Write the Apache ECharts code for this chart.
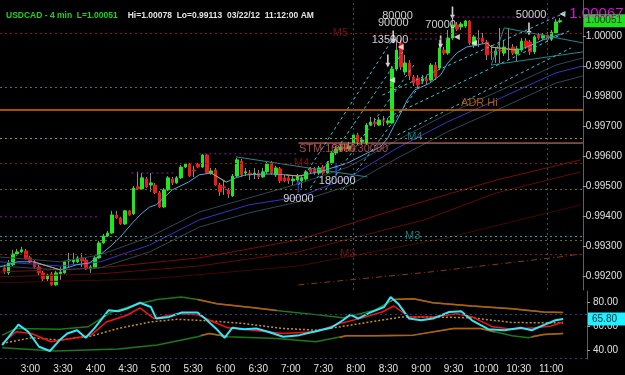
<!DOCTYPE html>
<html>
<head>
<meta charset="utf-8">
<script src="https://cdn.jsdelivr.net/npm/echarts@6/dist/echarts.min.js"></script>
<style>
html, body { margin: 0; padding: 0; background: #000; }
#chart { width: 625px; height: 375px; }
</style>
</head>
<body>
<div id="chart"></div>
<script>
// USDCAD 4 min bars, 2:36 -> 11:12
const firstBar = '2:36';
const barMinutes = 4;

// open, close, low, high
const candles = [
  [0.99227,0.99213,0.99207,0.99237],[0.99210,0.99243,0.99203,0.99253],[0.99237,0.99273,0.99233,0.99287],
  [0.99273,0.99280,0.99267,0.99290],[0.99280,0.99287,0.99277,0.99297],[0.99283,0.99257,0.99253,0.99290],
  [0.99260,0.99247,0.99243,0.99267],[0.99247,0.99230,0.99223,0.99253],[0.99230,0.99210,0.99203,0.99237],
  [0.99210,0.99190,0.99180,0.99217],[0.99190,0.99203,0.99183,0.99207],[0.99207,0.99170,0.99167,0.99213],
  [0.99170,0.99210,0.99167,0.99217],[0.99207,0.99213,0.99187,0.99230],[0.99210,0.99247,0.99207,0.99250],
  [0.99250,0.99253,0.99230,0.99277],[0.99247,0.99253,0.99240,0.99277],[0.99247,0.99260,0.99243,0.99267],
  [0.99260,0.99250,0.99230,0.99277],[0.99253,0.99223,0.99220,0.99260],[0.99223,0.99230,0.99210,0.99237],
  [0.99227,0.99260,0.99223,0.99267],[0.99260,0.99310,0.99257,0.99317],[0.99310,0.99333,0.99307,0.99340],
  [0.99333,0.99343,0.99330,0.99350],[0.99343,0.99403,0.99340,0.99417],[0.99403,0.99393,0.99390,0.99417],
  [0.99393,0.99373,0.99370,0.99397],[0.99373,0.99417,0.99370,0.99420],[0.99417,0.99403,0.99400,0.99420],
  [0.99407,0.99493,0.99403,0.99500],[0.99497,0.99490,0.99487,0.99547],[0.99490,0.99527,0.99487,0.99543],
  [0.99523,0.99497,0.99493,0.99530],[0.99503,0.99510,0.99480,0.99543],[0.99503,0.99477,0.99473,0.99510],
  [0.99477,0.99430,0.99427,0.99483],[0.99430,0.99487,0.99427,0.99493],[0.99487,0.99527,0.99483,0.99533],
  [0.99523,0.99510,0.99503,0.99530],[0.99510,0.99527,0.99507,0.99533],[0.99527,0.99563,0.99523,0.99570],
  [0.99563,0.99573,0.99560,0.99577],[0.99573,0.99533,0.99530,0.99577],[0.99553,0.99550,0.99530,0.99567],
  [0.99573,0.99563,0.99560,0.99577],[0.99563,0.99603,0.99560,0.99607],[0.99603,0.99543,0.99540,0.99607],
  [0.99543,0.99550,0.99537,0.99560],[0.99553,0.99503,0.99500,0.99560],[0.99503,0.99480,0.99467,0.99510],
  [0.99497,0.99495,0.99470,0.99520],[0.99487,0.99473,0.99460,0.99493],[0.99467,0.99533,0.99463,0.99540],
  [0.99533,0.99587,0.99530,0.99593],[0.99583,0.99537,0.99530,0.99590],[0.99543,0.99547,0.99533,0.99560],
  [0.99543,0.99537,0.99520,0.99553],[0.99540,0.99543,0.99523,0.99560],[0.99543,0.99530,0.99523,0.99553],
  [0.99530,0.99547,0.99527,0.99560],[0.99547,0.99573,0.99540,0.99580],[0.99577,0.99543,0.99537,0.99583],
  [0.99537,0.99560,0.99530,0.99567],[0.99557,0.99517,0.99510,0.99563],[0.99527,0.99517,0.99513,0.99537],
  [0.99527,0.99517,0.99507,0.99533],[0.99517,0.99523,0.99503,0.99533],[0.99520,0.99533,0.99513,0.99540],
  [0.99517,0.99527,0.99493,0.99533],[0.99523,0.99547,0.99517,0.99553],[0.99557,0.99547,0.99540,0.99563],
  [0.99557,0.99543,0.99537,0.99563],[0.99543,0.99560,0.99537,0.99567],[0.99563,0.99543,0.99537,0.99570],
  [0.99543,0.99577,0.99540,0.99583],[0.99577,0.99610,0.99570,0.99617],[0.99610,0.99623,0.99603,0.99633],
  [0.99620,0.99630,0.99613,0.99640],[0.99630,0.99623,0.99617,0.99640],[0.99623,0.99633,0.99617,0.99647],
  [0.99643,0.99670,0.99637,0.99677],[0.99670,0.99647,0.99640,0.99677],[0.99647,0.99653,0.99637,0.99663],
  [0.99643,0.99703,0.99637,0.99710],[0.99703,0.99713,0.99700,0.99730],[0.99713,0.99707,0.99697,0.99727],
  [0.99703,0.99720,0.99700,0.99730],[0.99717,0.99715,0.99700,0.99733],[0.99710,0.99717,0.99703,0.99727],
  [0.99710,0.99890,0.99707,0.99900],[0.99890,0.99953,0.99883,0.99987],[0.99977,0.99897,0.99887,0.99987],
  [0.99880,0.99910,0.99870,0.99937],[0.99910,0.99867,0.99853,0.99920],[0.99863,0.99843,0.99833,0.99870],
  [0.99860,0.99837,0.99827,0.99870],[0.99850,0.99857,0.99840,0.99870],[0.99857,0.99850,0.99840,0.99867],
  [0.99853,0.99903,0.99847,0.99910],[0.99903,0.99863,0.99853,0.99913],[0.99893,0.99960,0.99887,0.99987],
  [0.99953,0.99943,0.99937,0.99963],[0.99943,0.99993,0.99937,1.00020],[0.99993,1.00037,0.99987,1.00060],
  [1.00037,1.00023,1.00017,1.00047],[1.00030,1.00040,1.00020,1.00047],[1.00033,1.00050,1.00027,1.00053],
  [1.00050,0.99977,0.99970,1.00053],[0.99970,0.99997,0.99960,1.00003],[0.99993,0.99990,0.99963,1.00020],
  [0.99993,0.99980,0.99973,1.00010],[0.99980,0.99937,0.99920,0.99987],[0.99947,0.99945,0.99920,0.99970],
  [0.99937,0.99950,0.99910,0.99960],[0.99953,0.99950,0.99910,1.00027],[0.99943,0.99963,0.99933,0.99987],
  [0.99957,0.99955,0.99920,1.00027],[0.99963,0.99943,0.99937,0.99973],[0.99940,0.99957,0.99913,0.99967],
  [0.99953,0.99983,0.99947,0.99993],[0.99983,0.99963,0.99957,0.99993],[0.99980,0.99947,0.99937,0.99987],
  [0.99947,0.99997,0.99940,1.00003],[1.00003,0.99993,0.99987,1.00010],[0.99993,1.00003,0.99987,1.00010],
  [1.00003,0.99987,0.99980,1.00013],[0.99990,1.00013,0.99983,1.00020],[1.00010,1.00047,1.00007,1.00057],
  [1.00047,1.00051,1.00043,1.00060]
];

// moving averages / envelopes, [time, price]
const fastMa = [
  ['2:32',0.99230],['2:48',0.99247],['3:03',0.99247],['3:28',0.99220],['3:43',0.99237],['3:55',0.99243],
  ['4:05',0.99270],['4:14',0.99297],['4:23',0.99327],['4:35',0.99377],['4:44',0.99410],['4:51',0.99430],
  ['4:57',0.99437],['5:12',0.99487],['5:27',0.99513],['5:37',0.99537],['5:48',0.99543],['6:02',0.99513],
  ['6:11',0.99527],['6:20',0.99537],['6:44',0.99540],['6:57',0.99537],['7:09',0.99533],['7:15',0.99537],
  ['7:34',0.99553],['7:55',0.99577],['8:13',0.99610],['8:25',0.99630],['8:32',0.99660],['8:38',0.99703],
  ['8:44',0.99743],['8:50',0.99787],['8:57',0.99820],['9:11',0.99843],['9:21',0.99870],['9:27',0.99907],
  ['9:36',0.99943],['9:45',0.99963],['9:55',0.99970],['10:04',0.99977],['10:08',0.99963],['10:32',0.99953],
  ['10:41',0.99963],['10:56',0.99987],['11:15',1.00010]
];
const fastMaDown = [
  [['3:03',0.99247],['3:28',0.99220]],
  [['5:48',0.99543],['6:02',0.99513]],
  [['6:57',0.99537],['7:09',0.99533],['7:15',0.99537]],
  [['10:04',0.99977],['10:08',0.99963],['10:32',0.99953]]
];
const envTimes = ['2:32','3:28','4:05','4:51','5:37','6:23','7:09','7:55','8:41','9:27','10:13','11:08','11:33'];
const envUpper = [0.99263,0.99247,0.99270,0.99330,0.99413,0.99460,0.99507,0.99563,0.99653,0.99740,0.99813,0.99903,0.99927];
const envMid   = [0.99247,0.99233,0.99247,0.99303,0.99387,0.99437,0.99463,0.99527,0.99627,0.99713,0.99787,0.99877,0.99900];
const envLower = [0.99233,0.99220,0.99227,0.99280,0.99363,0.99410,0.99447,0.99500,0.99593,0.99680,0.99753,0.99843,0.99867];
const longMas = [
  [['2:32',0.99213],['4:05',0.99227],['5:37',0.99260],['7:09',0.99320],['8:32',0.99413],['10:13',0.99520],['11:31',0.99587]],
  [['2:32',0.99197],['4:05',0.99207],['5:37',0.99233],['7:09',0.99280],['9:06',0.99387],['10:13',0.99477],['11:31',0.99547]],
  [['2:32',0.99177],['4:51',0.99190],['7:09',0.99233],['9:27',0.99327],['11:31',0.99437]]
];
const slowDash = [['7:09',0.99170],['9:11',0.99213],['11:11',0.99263],['11:31',0.99273]];
const channels = [
  [['7:09',0.99503],['8:36',0.99987]],
  [['7:20',0.99493],['8:46',0.99947]],
  [['7:34',0.99487],['8:57',0.99907]],
  [['7:50',0.99487],['9:09',0.99870]],
  [['8:27',0.99803],['11:18',1.00080]],
  [['8:27',0.99720],['11:22',1.00020]],
  [['8:41',0.99670],['11:22',0.99960]]
];
const trendLines = [
  [['6:11',0.99597],['8:13',0.99530]],
  [['11:33',0.99977],['10:20',1.00027],['10:08',0.99903],['11:33',0.99947]]
];

// horizontal levels
const levels = [
  ['M5',1.00010],['R1',0.99830],['ADR Hi',0.99753],['M4c',0.99660],['M4',0.99577],
  ['P',0.99490],['M3c',0.99333],['S1',0.99320],['M3',0.99273]
];
const stmLevel = ['7:09','11:33',0.99643];
const volumeLevels = [
  ['2:32','4:05',0.99397],['4:34','5:15',0.99543],['5:37','7:09',0.99607],
  ['8:20','9:27',0.99990],['9:32','11:08',1.00063]
];
const sessionMarks = ['8:00','11:00'];
const lastClose = 1.00051;

// labels, [text, time, price]
const levelTags = [
  ['M5','7:48',1.00010,'red'],['M4','8:57',0.99663,'cyan'],['M4','7:12',0.99577,'red'],
  ['M3','8:55',0.99333,'cyan'],['M3','7:55',0.99273,'red'],['ADR Hi','9:57',0.99777,'orange']
];
const volumeTags = [
  ['80000','8:41',1.00067],['90000','8:37',1.00043],['135000','8:34',0.99987],['70000','9:21',1.00037],
  ['50000','10:45',1.00070],['90000','7:09',0.99457],['180000','7:45',0.99517]
];
const stmTags = [['STM:10000','7:09',0.99623],['STM:30000','7:39',0.99623]];
const hiTag = ['1.00067','11:20',1.00073];
const downArrows = [['8:32',0.99917],['8:37',0.99997],['9:21',0.99980],['9:32',1.00077],['10:43',1.00023]];
const upArrows = [['7:09',0.99500],['7:44',0.99553]];
const flags = [['8:44',0.99963],['9:36',0.99997],['8:36',0.99853],['9:52',0.99977],['11:14',1.00073]];

// oscillator pane
const oscFast = [
  ['2:34',44.1],['2:49',61.2],['2:58',55.2],['3:08',42.7],['3:18',39.2],['3:27',48.3],['3:34',53.8],
  ['3:43',56.5],['3:51',50.2],['3:59',58],['4:12',73.1],['4:21',72.3],['4:29',74.5],['4:41',79.4],
  ['4:51',75.9],['4:56',66.2],['5:08',67.6],['5:19',71.2],['5:34',71.2],['5:41',66.2],['5:51',58],
  ['5:59',50.2],['6:06',58.5],['6:17',57.4],['6:28',58],['6:39',55.2],['6:53',51.1],['7:08',52.4],
  ['7:23',55.7],['7:37',58.5],['7:48',64.8],['7:55',69.5],['8:02',66.2],['8:13',71.2],['8:26',75.9],
  ['8:32',84.1],['8:39',78.6],['8:49',66.2],['9:00',64.8],['9:11',66.2],['9:26',71.7],['9:37',72.3],
  ['9:47',64.8],['10:02',57.4],['10:17',56.5],['10:32',58.5],['10:42',56.5],['10:53',60.7],['11:04',64.8],
  ['11:11',65.8]
];
const oscSlow = [
  ['2:34',45.5],['2:47',55.2],['3:01',53.8],['3:19',46.9],['3:38',49.6],['3:56',52.4],['4:10',63.4],
  ['4:29',69],['4:41',75.1],['4:54',66.2],['5:15',70.3],['5:34',69.5],['5:49',63.4],['6:02',58.5],
  ['6:25',56.5],['6:53',53.8],['7:23',55.2],['7:45',62.1],['8:06',66.8],['8:24',71.7],['8:35',76.7],
  ['8:49',67.6],['9:11',67.6],['9:33',70.3],['9:47',67.6],['10:06',59.3],['10:24',57.4],['10:45',58.5],
  ['11:00',60.1],['11:11',63.4]
];
const oscSignal = [
  ['2:34',45.5],['3:01',50.2],['3:27',48.3],['3:56',51.6],['4:21',58],['4:51',63.4],['5:15',65.6],
  ['5:45',64.3],['6:17',62.1],['6:53',58],['7:23',56.5],['7:45',59.3],['8:13',63.4],['8:43',67.6],
  ['9:11',67.6],['9:47',66.8],['10:24',62.9],['11:11',62.6]
];
const bandUpper = [
  ['2:34',52.4],['2:47',58],['3:27',57.4],['3:53',59.3],['4:14',71.2],['4:40',78.6],['4:57',82.2],
  ['5:19',84.1],['5:34',82.2],['5:52',78.6],['6:28',75],['6:53',72.3],['7:23',69.5],['7:48',66.8],
  ['8:17',73.1],['8:35',82.2],['8:53',82.8],['9:11',79.4],['9:47',76.7],['10:24',74.5],['10:53',71.7],
  ['11:11',71.2]
];
const bandLower = [
  ['2:34',41.9],['3:08',40],['3:23',39.2],['4:21',40.8],['4:57',44.1],['5:34',51],['5:45',53.8],
  ['6:02',51],['6:47',49.6],['7:23',46.9],['7:51',51.8],['8:17',51.8],['8:53',52.4],['9:30',58],
  ['9:55',58],['10:24',51.8],['10:39',50.2],['10:53',53],['11:11',53.8]
];
const bandHot = [
  [['5:34',82.2],['5:52',78.6],['6:28',75],['6:47',73]],
  [['8:32',80.5],['8:35',82.2],['8:53',82.8],['9:11',79.4],['9:47',76.7],['10:24',74.5],['10:53',71.7],['11:11',71.2]],
  [['5:37',52.2],['5:45',53.8],['6:02',51]],
  [['7:45',50.5],['7:51',51.8],['8:17',51.8],['8:53',52.4],['9:30',58],['9:55',58],['10:08',55]],
  [['10:42',51],['10:53',53],['11:11',53.8]]
];
const oscLevels = [70, 33];
const oscLast = 65.8;

const timeTicks = ['3:00','3:30','4:00','4:30','5:00','5:30','6:00','6:30','7:00','7:30',
  '8:00','8:30','9:00','9:30','10:00','10:30','11:00'];
const priceTicks = [0.992,0.993,0.994,0.995,0.996,0.997,0.998,0.999,1.000];
const oscTicks = [40, 60, 80];

function tm(s) {
  const [h, m] = s.split(':').map(Number);
  return h * 60 + m;
}
function fmtTime(v) {
  return Math.floor(v / 60) + ':' + String(v % 60).padStart(2, '0');
}
const pts = arr => arr.map(([t, v]) => [tm(t), v]);

const FONT = 'Arial, "Liberation Sans", sans-serif';
const levelStyle = {
  'M5': { color: '#8c1414', type: [2, 3] },
  'R1': { color: '#6c6c10', type: [2, 3] },
  'ADR Hi': { color: '#e06a00', type: 'solid', width: 1.5 },
  'M4c': { color: '#9a9a10', type: [2, 3] },
  'M4': { color: '#8c1414', type: [2, 3] },
  'P': { color: '#6c6c10', type: [2, 3] },
  'M3c': { color: '#18a0a8', type: [2, 3] },
  'S1': { color: '#6c6c10', type: [2, 3] },
  'M3': { color: '#8c1414', type: [2, 3] }
};
const tagColor = { red: '#8c1414', cyan: '#1a9aa0', orange: '#e06a00' };
const hidden = { color: 'rgba(0,0,0,0)', width: 0 };

const t0 = tm(firstBar);
const bars = candles.map((c, i) => [t0 + barMinutes * i, c[0], c[1], c[2], c[3]]);
const bodies = candles.map((c, i) => [t0 + barMinutes * i, c[0], c[1], Math.min(c[0], c[1]), Math.max(c[0], c[1])]);

function line(data, color, opts) {
  return Object.assign({
    type: 'line', xAxisIndex: 0, yAxisIndex: 0, data: pts(data), showSymbol: false,
    silent: true, lineStyle: { color: color, width: 1 }
  }, opts || {});
}
function osc(data, color, width, type) {
  return {
    type: 'line', xAxisIndex: 1, yAxisIndex: 1, data: pts(data), showSymbol: false, silent: true,
    lineStyle: { color: color, width: width, type: type || 'solid' }
  };
}
function tags(list, color, size, align, z) {
  return {
    type: 'scatter', xAxisIndex: 0, yAxisIndex: 0, symbolSize: 1, silent: true, z: z || 6, zlevel: z ? 1 : 0,
    itemStyle: { color: 'rgba(0,0,0,0)' },
    data: list.map(([txt, t, p, k]) => ({
      name: txt, value: [tm(t), p],
      label: { color: k ? tagColor[k] : color }
    })),
    label: {
      show: true, formatter: '{b}', position: align === 'left' ? 'right' : 'inside',
      distance: 0, fontSize: size, fontFamily: FONT, color: color
    }
  };
}
function priceBox(value, digits, bg, fg, pad) {
  return {
    yAxis: value, lineStyle: hidden,
    label: {
      show: true, opacity: 1, position: 'end', distance: 1, formatter: value.toFixed(digits),
      backgroundColor: bg, color: fg, fontSize: 10, fontFamily: FONT, padding: pad
    }
  };
}
const arrowPath = 'path://M2,0 L4,0 L4,9 L6,9 L3,14 L0,9 L2,9 Z';

const series = [];
// long-term and envelope lines
longMas.forEach((d, i) => series.push(line(d, ['#7a0a0a', '#620808', '#420606'][i])));
series.push(line(slowDash, '#8a3a10', { lineStyle: { color: '#8a3a10', width: 1, type: [6, 3, 1, 3] } }));
series.push(line(envTimes.map((t, i) => [t, envUpper[i]]), '#28485a'));
series.push(line(envTimes.map((t, i) => [t, envMid[i]]), '#3434c8'));
series.push(line(envTimes.map((t, i) => [t, envLower[i]]), '#28485a'));
trendLines.forEach(d => series.push(line(d, '#1a8c8c')));
channels.forEach(d => series.push(line(d, '#2cc8d8', { lineStyle: { color: '#2cc8d8', width: 1, type: [3, 3] } })));
// partial levels
volumeLevels.forEach(([a, b, p]) => series.push(line([[a, p], [b, p]], '#8a1a9a',
  { lineStyle: { color: '#8a1a9a', width: 1, type: [2, 3] } })));
series.push(line([[stmLevel[0], stmLevel[2]], [stmLevel[1], stmLevel[2]]], '#ff7a7a'));
// full-width levels, session marks and last price box
series.push(line([], '#000', {
  clip: false,
  markLine: {
    symbol: 'none', silent: true, animation: false, precision: 6, label: { show: false },
    data: levels.map(([name, p]) => ({ yAxis: p, lineStyle: Object.assign({ width: 1 }, levelStyle[name]) }))
      .concat(sessionMarks.map(t => ({ xAxis: tm(t), lineStyle: { color: '#1c5c5c', type: [2, 3], width: 1 } })))
      .concat([priceBox(lastClose, 5, '#1ee01e', '#003000', [2, 3, 1, 2])])
  }
}));
// fast average
series.push(line(fastMa, '#4aa8e0'));
fastMaDown.forEach(d => series.push(line(d, '#c8a040')));

// candles: gray wicks, then colored bodies
series.push({
  type: 'candlestick', xAxisIndex: 0, yAxisIndex: 0, data: bars, encode: { x: 0, y: [1, 2, 3, 4] },
  barWidth: 1, silent: true,
  itemStyle: { color: '#8c8c8c', color0: '#8c8c8c', borderColor: '#8c8c8c', borderColor0: '#8c8c8c', borderWidth: 1 }
});
series.push({
  type: 'candlestick', xAxisIndex: 0, yAxisIndex: 0, data: bodies, encode: { x: 0, y: [1, 2, 3, 4] },
  barWidth: 3, silent: true,
  itemStyle: { color: '#1ee81e', color0: '#f01818', borderColor: '#1ee81e', borderColor0: '#f01818', borderWidth: 1 }
});

// markers
series.push({
  type: 'scatter', xAxisIndex: 0, yAxisIndex: 0, silent: true, symbol: arrowPath, symbolSize: [5, 13],
  itemStyle: { color: '#ffffff' }, data: pts(downArrows)
});
series.push({
  type: 'scatter', xAxisIndex: 0, yAxisIndex: 0, silent: true, symbol: arrowPath, symbolSize: [5, 13],
  symbolRotate: 180, itemStyle: { color: '#2a3cff' }, data: pts(upArrows)
});
series.push({
  type: 'scatter', xAxisIndex: 0, yAxisIndex: 0, silent: true, symbol: 'triangle', symbolSize: 6,
  symbolRotate: 90, itemStyle: { color: '#ffffff' }, data: pts(flags)
});
// texts
series.push(tags(levelTags, '#8c1414', 11));
series.push(tags(volumeTags.map(v => v.concat([null])), '#ffffff', 11));
series.push(tags(stmTags, '#e05a5a', 11, 'left'));
series.push(tags([hiTag], '#ff20ff', 15, 'left', 20));

// oscillator pane
series.push(osc(bandUpper, '#1a7a1a', 1.5));
series.push(osc(bandLower, '#1a7a1a', 1.5));
bandHot.forEach(d => series.push(osc(d, '#c05a0a', 1.5)));
series.push(osc(oscSignal, '#c89020', 1.5, [2, 2]));
series.push(osc(oscSlow, '#ff1010', 1.5));
const fastOsc = osc(oscFast, '#30e8f8', 2);
fastOsc.clip = false;
fastOsc.markLine = {
  symbol: 'none', silent: true, animation: false, precision: 3, label: { show: false },
  data: oscLevels.map(v => ({ yAxis: v, lineStyle: { color: '#22407a', type: [2, 3], width: 1 } }))
    .concat([priceBox(oscLast, 2, '#20f0ff', '#003040', [2, 9, 1, 4])])
};
series.push(fastOsc);

const chart = echarts.init(document.getElementById('chart'));
chart.setOption({
  animation: false,
  backgroundColor: '#000',
  title: {
    left: 1, top: 2,
    text: '{g|USDCAD - 4 min  L=1.00051}  {w|Hi=1.00078  Lo=0.99113  03/22/12  11:12:00 AM}',
    textStyle: {
      fontFamily: FONT,
      rich: {
        g: { color: '#20d020', fontSize: 8.5, fontFamily: FONT },
        w: { color: '#e4e4e4', fontSize: 8.5, fontFamily: FONT }
      }
    }
  },
  grid: [
    { left: 0, top: 0, width: 587, height: 290 },
    { left: 0, top: 291, width: 587, height: 68 }
  ],
  xAxis: [
    { type: 'value', gridIndex: 0, min: tm('2:32'), max: tm('11:33'), show: false },
    {
      type: 'value', gridIndex: 1, min: tm('2:32'), max: tm('11:33'),
      axisLine: { show: false }, axisTick: { show: false }, splitLine: { show: false },
      axisLabel: {
        customValues: timeTicks.map(tm), formatter: fmtTime,
        color: '#e0e0e0', fontSize: 10, fontFamily: FONT, margin: 5
      }
    }
  ],
  yAxis: [
    {
      type: 'value', gridIndex: 0, position: 'right', min: 0.99153, max: 1.0012, scale: true,
      axisLine: { show: true, lineStyle: { color: '#606060' } },
      axisTick: { show: true, customValues: priceTicks, length: 3, lineStyle: { color: '#a0a0a0' } },
      splitLine: { show: false },
      axisLabel: {
        customValues: priceTicks, formatter: v => v.toFixed(5),
        color: '#e0e0e0', fontSize: 10, fontFamily: FONT, margin: 3
      }
    },
    {
      type: 'value', gridIndex: 1, position: 'right', min: 32.5, max: 89.2, scale: true,
      axisLine: { show: true, lineStyle: { color: '#606060' } },
      axisTick: { show: true, customValues: oscTicks, length: 3, lineStyle: { color: '#a0a0a0' } },
      splitLine: { show: false },
      axisLabel: {
        customValues: oscTicks, formatter: v => v.toFixed(2),
        color: '#e0e0e0', fontSize: 10, fontFamily: FONT, margin: 6
      }
    }
  ],
  series: series
});
</script>
</body>
</html>
